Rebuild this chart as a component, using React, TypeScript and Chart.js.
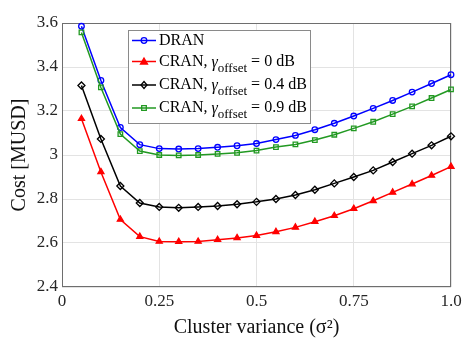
import { useEffect, useRef } from 'react';
import { Chart, registerables } from 'chart.js';

Chart.register(...registerables);

const xValues = [0.05, 0.1, 0.15, 0.2, 0.25, 0.3, 0.35, 0.4, 0.45, 0.5, 0.55, 0.6, 0.65, 0.7, 0.75, 0.8, 0.85, 0.9, 0.95, 1.0];
const dran = [3.585, 3.339, 3.125, 3.047, 3.029, 3.027, 3.029, 3.035, 3.042, 3.052, 3.070, 3.089, 3.115, 3.144, 3.177, 3.212, 3.248, 3.286, 3.325, 3.365];
const cran0 = [3.165, 2.923, 2.707, 2.629, 2.607, 2.606, 2.607, 2.615, 2.623, 2.634, 2.651, 2.671, 2.697, 2.724, 2.756, 2.792, 2.830, 2.868, 2.907, 2.947];
const cran04 = [3.316, 3.073, 2.859, 2.782, 2.764, 2.760, 2.764, 2.768, 2.776, 2.787, 2.800, 2.818, 2.842, 2.871, 2.900, 2.930, 2.968, 3.006, 3.044, 3.085];
const cran09 = [3.557, 3.307, 3.095, 3.018, 3.000, 2.998, 3.000, 3.005, 3.010, 3.020, 3.036, 3.048, 3.068, 3.092, 3.121, 3.151, 3.186, 3.221, 3.259, 3.298];

const xTickValues = [0, 0.25, 0.5, 0.75, 1];
const xTickLabels = ['0', '0.25', '0.5', '0.75', '1.0'];
const yTickValues = [2.4, 2.6, 2.8, 3.0, 3.2, 3.4, 3.6];
const yTickLabels = ['2.4', '2.6', '2.8', '3', '3.2', '3.4', '3.6'];

const seriesNames = ['DRAN', 'CRAN, ', 'CRAN, ', 'CRAN, '];
const offsetValues = ['', ' = 0 dB', ' = 0.4 dB', ' = 0.9 dB'];
const seriesColors = ['#0000ff', '#ff0000', '#000000', '#229922'];
const seriesMarkers = ['circle', 'triangle', 'rectRot', 'rect'];
const seriesData = [dran, cran0, cran04, cran09];

const xTitle = 'Cluster variance (\u03C3\u00B2)';
const yTitle = 'Cost [MUSD]';

const FONT = "'Liberation Serif', 'Times New Roman', serif";

function drawMarker(ctx: CanvasRenderingContext2D, type: string, x: number, y: number, color: string) {
  ctx.save();
  ctx.strokeStyle = color;
  ctx.fillStyle = color;
  ctx.lineWidth = 1.3;
  ctx.beginPath();
  if (type === 'circle') {
    ctx.arc(x, y, 2.8, 0, Math.PI * 2);
    ctx.stroke();
  } else if (type === 'triangle') {
    ctx.moveTo(x, y - 3.5);
    ctx.lineTo(x + 3.5, y + 2.5);
    ctx.lineTo(x - 3.5, y + 2.5);
    ctx.closePath();
    ctx.fill();
    ctx.stroke();
  } else if (type === 'rectRot') {
    ctx.moveTo(x, y - 3.5);
    ctx.lineTo(x + 3, y);
    ctx.lineTo(x, y + 3.5);
    ctx.lineTo(x - 3, y);
    ctx.closePath();
    ctx.stroke();
  } else {
    ctx.rect(x - 2.3, y - 2.3, 4.6, 4.6);
    ctx.stroke();
  }
  ctx.restore();
}

const framePlugin = {
  id: 'frame',
  beforeDatasetsDraw(chart: any) {
    const { ctx, chartArea: ca } = chart;
    ctx.save();
    ctx.strokeStyle = '#6e6e6e';
    ctx.lineWidth = 1;
    ctx.strokeRect(Math.round(ca.left) + 0.5, Math.round(ca.top) + 0.5, Math.round(ca.right - ca.left) - 1, Math.round(ca.bottom - ca.top) - 1);
    ctx.restore();
  },
};

const legendPlugin = {
  id: 'customLegend',
  afterDraw(chart: any) {
    const { ctx, chartArea: ca } = chart;
    const bx = Math.round(ca.left) + 66;
    const by = Math.round(ca.top) + 7;
    const bw = 182;
    const bh = 93;
    ctx.save();
    ctx.fillStyle = '#ffffff';
    ctx.fillRect(bx, by, bw, bh);
    ctx.strokeStyle = '#8a8a8a';
    ctx.lineWidth = 1;
    ctx.strokeRect(bx + 0.5, by + 0.5, bw, bh);
    const rowY = [10.5, 31.5, 55, 78];
    for (let i = 0; i < seriesNames.length; i++) {
      const y = by + rowY[i];
      const color = seriesColors[i];
      ctx.strokeStyle = color;
      ctx.lineWidth = 1.5;
      ctx.beginPath();
      ctx.moveTo(bx + 4, y);
      ctx.lineTo(bx + 28, y);
      ctx.stroke();
      drawMarker(ctx, seriesMarkers[i], bx + 16, y, color);
      ctx.fillStyle = '#000000';
      ctx.textBaseline = 'middle';
      ctx.textAlign = 'left';
      ctx.font = `16px ${FONT}`;
      let tx = bx + 31;
      ctx.fillText(seriesNames[i], tx, y);
      tx += ctx.measureText(seriesNames[i]).width;
      if (offsetValues[i]) {
        ctx.font = `italic 16px ${FONT}`;
        ctx.fillText('\u03B3', tx, y + 1);
        tx += ctx.measureText('\u03B3').width;
        ctx.font = `13px ${FONT}`;
        ctx.fillText('offset', tx, y + 7);
        tx += ctx.measureText('offset').width;
        ctx.font = `16px ${FONT}`;
        ctx.fillText(offsetValues[i], tx, y);
      }
    }
    ctx.restore();
  },
};

export default function App() {
  const canvasRef = useRef<HTMLCanvasElement | null>(null);

  useEffect(() => {
    if (!canvasRef.current) return;
    const chart = new Chart(canvasRef.current, {
      type: 'line',
      data: {
        datasets: seriesData.map((vals, i) => ({
          label: seriesNames[i] + offsetValues[i],
          data: vals.map((v, j) => ({ x: xValues[j], y: v })),
          borderColor: seriesColors[i],
          backgroundColor: i === 1 ? seriesColors[i] : 'rgba(0,0,0,0)',
          borderWidth: 1.5,
          pointStyle: seriesMarkers[i] as any,
          pointRadius: seriesMarkers[i] === 'rect' ? 3.2 : seriesMarkers[i] === 'circle' ? 2.8 : 3.5,
          pointBorderWidth: 1.3,
          pointBorderColor: seriesColors[i],
          pointBackgroundColor: i === 1 ? seriesColors[i] : 'rgba(0,0,0,0)',
          tension: 0,
          clip: false as any,
          order: 4 - i,
        })),
      },
      options: {
        responsive: false,
        animation: false,
        layout: { padding: { left: 0, right: 16, top: 23, bottom: 0 } },
        plugins: {
          legend: { display: false },
          tooltip: { enabled: false },
        },
        scales: {
          x: {
            type: 'linear',
            min: 0,
            max: 1,
            afterBuildTicks: (scale: any) => {
              scale.ticks = xTickValues.map((v) => ({ value: v }));
            },
            afterFit: (scale: any) => {
              scale.height = 64;
            },
            ticks: {
              callback: (_v: any, idx: number) => xTickLabels[idx],
              font: { family: FONT, size: 17 },
              color: '#262626',
              padding: 4,
              maxRotation: 0,
            },
            grid: { color: '#e3e3e3', drawTicks: false },
            border: { display: false },
            title: {
              display: true,
              text: xTitle,
              font: { family: FONT, size: 20 },
              color: '#111111',
              padding: { top: 0, bottom: 11 },
            },
          },
          y: {
            type: 'linear',
            min: 2.4,
            max: 3.6,
            afterBuildTicks: (scale: any) => {
              scale.ticks = yTickValues.map((v) => ({ value: v }));
            },
            afterFit: (scale: any) => {
              scale.width = 62;
            },
            ticks: {
              callback: (_v: any, idx: number) => yTickLabels[idx],
              font: { family: FONT, size: 17 },
              color: '#262626',
              padding: 4,
            },
            grid: { color: '#e3e3e3', drawTicks: false },
            border: { display: false },
            title: {
              display: true,
              text: yTitle,
              font: { family: FONT, size: 20 },
              color: '#111111',
              padding: { top: 8, bottom: 0 },
            },
          },
        },
      },
      plugins: [framePlugin, legendPlugin],
    });
    return () => chart.destroy();
  }, []);

  return (
    <div style={{ position: 'fixed', left: 0, top: 0, width: 467, height: 351, background: '#ffffff' }}>
      <canvas ref={canvasRef} width={467} height={351} />
    </div>
  );
}
